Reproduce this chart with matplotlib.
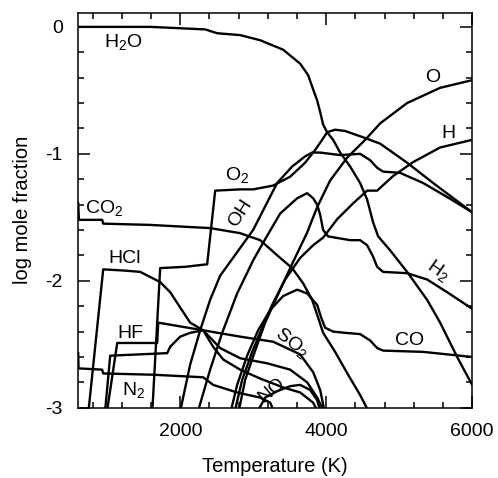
import numpy as np
import matplotlib
matplotlib.use("Agg")
import matplotlib.pyplot as plt
from matplotlib.ticker import MultipleLocator

plt.rcParams['font.family'] = ['Liberation Sans', 'DejaVu Sans']
plt.rcParams['mathtext.fontset'] = 'custom'
plt.rcParams['mathtext.rm'] = 'Liberation Sans'
plt.rcParams['mathtext.it'] = 'Liberation Sans'
plt.rcParams['axes.unicode_minus'] = False

# species curves: temperature (K) and log mole fraction
h2o_T = [600, 1587, 2341, 2505, 2820, 3094, 3410, 3643, 3752, 3807, 3876, 3917, 3958, 4013, 4095,
         4191, 4328, 4465, 4561, 4643, 4712, 4876, 5109, 5383, 5562, 5795, 6000]
h2o_X = [0.0, 0.0, -0.02, -0.05, -0.065, -0.105, -0.18, -0.29, -0.38, -0.47, -0.58, -0.67, -0.77, -0.83, -0.89,
         -0.99, -1.10, -1.23, -1.36, -1.54, -1.65, -1.76, -1.93, -2.15, -2.33, -2.60, -2.82]

o2_T = [1614, 1724, 2067, 2368, 2478, 2820, 2998, 3273, 3506, 3711, 3848, 3944, 4013, 4122, 4259,
        4506, 4740, 5109, 5466, 6000]
o2_X = [-3.05, -1.90, -1.89, -1.87, -1.29, -1.28, -1.28, -1.25, -1.18, -1.07, -0.97, -0.89, -0.83, -0.81, -0.82,
        -0.87, -0.92, -1.07, -1.23, -1.46]

oh_T = [1990, 2135, 2272, 2409, 2546, 2697, 2998, 3327, 3533, 3711, 3807, 3917, 4191, 4465, 4602,
        4698, 4780, 5013, 5329, 5658, 6000]
oh_X = [-3.05, -2.66, -2.39, -2.15, -1.96, -1.84, -1.60, -1.23, -1.10, -1.02, -0.99, -0.99, -1.01, -1.00, -1.05,
        -1.11, -1.14, -1.15, -1.23, -1.34, -1.46]

h2_T = [2231, 2409, 2574, 2779, 2998, 3135, 3369, 3602, 3739, 3821, 3876, 3917, 3958, 4026, 4122,
        4328, 4465, 4561, 4643, 4698, 4780, 5109, 5383, 5658, 6000]
h2_X = [-3.05, -2.70, -2.41, -2.10, -1.84, -1.70, -1.47, -1.35, -1.31, -1.35, -1.40, -1.48, -1.60, -1.65, -1.66,
        -1.68, -1.68, -1.72, -1.81, -1.89, -1.93, -1.94, -1.99, -2.09, -2.22]

o_T = [2793, 2889, 3026, 3163, 3369, 3547, 3739, 3876, 4054, 4287, 4534, 4740, 5109, 5562, 6000]
o_X = [-3.05, -2.78, -2.55, -2.33, -2.07, -1.85, -1.62, -1.42, -1.21, -1.03, -0.89, -0.76, -0.60, -0.48, -0.42]

h_T = [2738, 2848, 2985, 3122, 3259, 3437, 3643, 3821, 3958, 4150, 4369, 4561, 4698, 4917, 5192, 5562, 6000]
h_X = [-3.05, -2.78, -2.56, -2.37, -2.19, -1.99, -1.82, -1.72, -1.66, -1.515, -1.39, -1.29, -1.29, -1.175,
       -1.065, -0.95, -0.89]

co_T = [2683, 2779, 2916, 3067, 3232, 3410, 3602, 3739, 3876, 3931, 3985, 4095, 4259, 4465, 4602,
        4698, 4780, 5329, 6000]
co_X = [-3.05, -2.82, -2.59, -2.39, -2.23, -2.12, -2.07, -2.10, -2.19, -2.29, -2.37, -2.40, -2.41, -2.42, -2.47,
        -2.53, -2.55, -2.56, -2.60]

co2_T = [600, 610, 929, 943, 1587, 2409, 2820, 3094, 3369, 3533, 3684, 3807, 3889, 3958, 4122,
         4300, 4465, 4600]
co2_X = [-1.39, -1.52, -1.52, -1.55, -1.56, -1.585, -1.625, -1.68, -1.82, -1.90, -2.02, -2.15, -2.29, -2.41, -2.56,
         -2.74, -2.90, -3.05]

hcl_T = [737, 943, 1244, 1450, 1724, 1861, 1998, 2135, 2313, 2450, 2588, 2820, 3094, 3410, 3643, 3821, 3900]
hcl_X = [-3.05, -1.91, -1.92, -1.93, -2.01, -2.09, -2.21, -2.33, -2.39, -2.52, -2.62, -2.70, -2.77, -2.84,
         -2.88, -2.96, -3.05]

hf_T = [990, 1135, 1683, 1697, 2313, 2546, 2820, 3190, 3506, 3739, 3876, 3944, 3990]
hf_X = [-3.05, -2.49, -2.49, -2.33, -2.39, -2.53, -2.61, -2.65, -2.70, -2.80, -2.92, -3.0, -3.05]

so2_T = [965, 1039, 1820, 1861, 1998, 2135, 2313, 2820, 3273, 3643, 3821, 3917, 3985]
so2_X = [-3.05, -2.59, -2.57, -2.52, -2.44, -2.41, -2.39, -2.44, -2.48, -2.58, -2.72, -2.86, -3.05]

n2_T = [600, 605, 929, 943, 1628, 2313, 2450, 2779, 3094, 3232, 3300]
n2_X = [-2.57, -2.69, -2.70, -2.73, -2.74, -2.76, -2.82, -2.88, -2.92, -2.96, -3.05]

no_T = [3040, 3163, 3327, 3506, 3643, 3780, 3876, 3930]
no_X = [-3.05, -2.92, -2.87, -2.83, -2.82, -2.86, -2.94, -3.05]

curves = [(h2o_T, h2o_X), (o2_T, o2_X), (oh_T, oh_X), (h2_T, h2_X), (o_T, o_X), (h_T, h_X),
          (co_T, co_X), (co2_T, co2_X), (hcl_T, hcl_X), (hf_T, hf_X), (so2_T, so2_X),
          (n2_T, n2_X), (no_T, no_X)]

fig = plt.figure(figsize=(4.98, 4.78), dpi=100)
ax = fig.add_axes([0.157, 0.147, 0.791, 0.826])

for T, X in curves:
    ax.plot(T, X, color='black', lw=1.7, solid_joinstyle='round')

ax.set_xlim(600, 6000)
ax.set_ylim(-3, 0.11)
ax.xaxis.set_major_locator(MultipleLocator(2000))
ax.xaxis.set_minor_locator(MultipleLocator(400))
ax.yaxis.set_major_locator(MultipleLocator(1))
ax.yaxis.set_minor_locator(MultipleLocator(0.2))
ax.tick_params(which='both', direction='in', top=True, right=True, labelsize=14, width=1.1, pad=11)
ax.tick_params(which='major', length=8.5)
ax.tick_params(which='minor', length=4.3)
for s in ax.spines.values():
    s.set_linewidth(1.1)

ax.set_xlabel('Temperature (K)', fontsize=14.5, labelpad=12)
ax.set_ylabel('log mole fraction', fontsize=14.5, labelpad=10)

fs = 14
ax.text(956, -0.16, r'H$_2$O', fontsize=fs, va='baseline')
ax.text(5466, -0.40, 'O', fontsize=fs, ha='center', va='center')
ax.text(5671, -0.84, 'H', fontsize=fs, ha='center', va='center')
ax.text(2615, -1.21, r'O$_2$', fontsize=fs, va='baseline')
ax.text(2820, -1.47, 'OH', fontsize=fs, ha='center', va='center', rotation=57)
ax.text(696, -1.47, r'CO$_2$', fontsize=fs, va='baseline')
ax.text(1011, -1.86, 'HCl', fontsize=fs, va='baseline')
ax.text(1135, -2.45, 'HF', fontsize=fs, va='baseline')
ax.text(1203, -2.90, r'N$_2$', fontsize=fs, va='baseline')
ax.text(3533, -2.49, r'SO$_2$', fontsize=fs, ha='center', va='center', rotation=-38)
ax.text(5136, -2.47, 'CO', fontsize=fs, ha='center', va='center')
ax.text(5534, -1.92, r'H$_2$', fontsize=fs, ha='center', va='center', rotation=-35)
ax.text(3259, -2.86, 'NO', fontsize=fs, ha='center', va='center', rotation=40)

fig.savefig('out.png', dpi=100)
